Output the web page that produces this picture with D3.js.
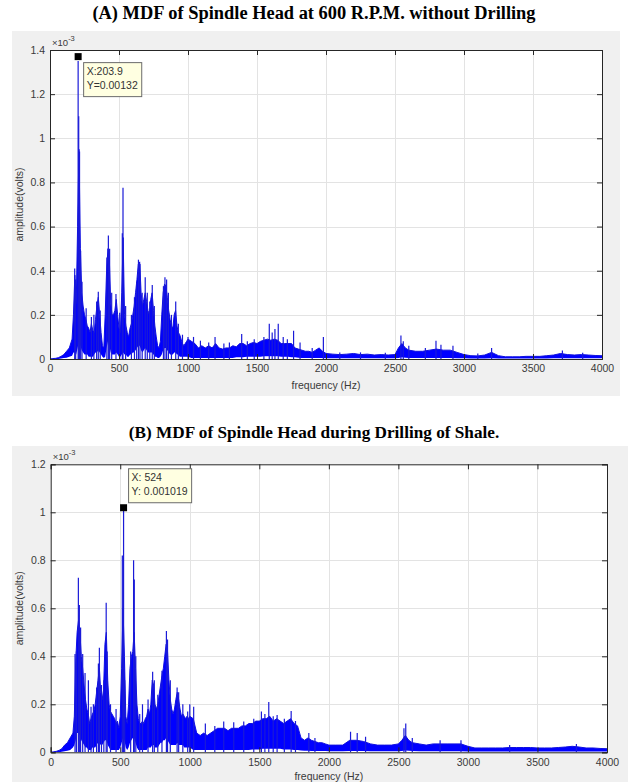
<!DOCTYPE html>
<html>
<head>
<meta charset="utf-8">
<script src="https://cdn.jsdelivr.net/npm/d3@7"></script>
<style>
    body { margin: 0; background: #fff; }
    svg { display: block; }
    .axis text { font-family: "Liberation Sans", Arial, sans-serif; font-size: 10.5px; fill: #3a3a3a; }
    .axis path, .axis line { stroke: #262626; }
    .lbl { font-family: "Liberation Sans", Arial, sans-serif; font-size: 10.5px; fill: #3a3a3a; }
    .title { font-family: "Liberation Serif", "Times New Roman", serif; font-weight: bold; fill: #000; }
</style>
</head>
<body>
<svg id="chart"></svg>
<script>
// tick labels
const xTicks = [0, 500, 1000, 1500, 2000, 2500, 3000, 3500, 4000];
const yTicksA = [0, 0.2, 0.4, 0.6, 0.8, 1, 1.2, 1.4];
const yTicksB = [0, 0.2, 0.4, 0.6, 0.8, 1, 1.2];

const titleA = "(A) MDF of Spindle Head at 600 R.P.M. without Drilling";
const titleB = "(B) MDF of Spindle Head during Drilling of Shale.";

// spectrum envelope: [frequency Hz, lower, upper]  (x 10^-3 volts)
const envA = [
    [0, 0, 0], [20, 0, 0.002], [40, 0, 0.003], [60, 0, 0.006], [80, 0.002, 0.012], [100, 0.004, 0.02],
    [120, 0.006, 0.035], [140, 0.01, 0.05], [160, 0.015, 0.09], [170, 0.03, 0.2], [180, 0.03, 0.38],
    [190, 0.02, 0.25], [200, 0.05, 0.6], [210, 0.08, 0.95], [220, 0.06, 0.5], [230, 0.04, 0.3],
    [240, 0.03, 0.24], [250, 0.02, 0.2], [260, 0.02, 0.18], [270, 0.02, 0.15], [280, 0.01, 0.14],
    [290, 0.01, 0.12], [300, 0.01, 0.16], [310, 0.01, 0.13], [320, 0.02, 0.12], [330, 0.03, 0.18],
    [340, 0.03, 0.24], [350, 0.04, 0.28], [360, 0.03, 0.2], [370, 0.02, 0.12], [380, 0.01, 0.06],
    [390, 0.005, 0.05], [400, 0.01, 0.2], [410, 0.05, 0.4], [420, 0.08, 0.5], [430, 0.06, 0.45],
    [440, 0.03, 0.25], [450, 0.02, 0.2], [460, 0.02, 0.2], [470, 0.02, 0.22], [480, 0.03, 0.27],
    [490, 0.02, 0.2], [500, 0.01, 0.14], [510, 0.01, 0.12], [520, 0.02, 0.3], [530, 0.03, 0.55],
    [540, 0.02, 0.2], [550, 0.02, 0.15], [560, 0.01, 0.12], [570, 0.01, 0.1], [580, 0.02, 0.14],
    [590, 0.02, 0.16], [600, 0.03, 0.2], [610, 0.03, 0.24], [620, 0.04, 0.3], [630, 0.05, 0.36],
    [640, 0.06, 0.43], [650, 0.06, 0.44], [660, 0.04, 0.3], [670, 0.03, 0.24], [680, 0.04, 0.27],
    [690, 0.05, 0.3], [700, 0.04, 0.26], [710, 0.03, 0.22], [720, 0.03, 0.2], [730, 0.03, 0.27],
    [740, 0.03, 0.3], [750, 0.02, 0.22], [760, 0.01, 0.15], [770, 0.01, 0.1], [780, 0.005, 0.06],
    [790, 0.005, 0.05], [800, 0.01, 0.08], [810, 0.02, 0.2], [820, 0.04, 0.3], [830, 0.05, 0.34],
    [840, 0.05, 0.33], [850, 0.04, 0.28], [860, 0.03, 0.22], [870, 0.02, 0.18], [880, 0.02, 0.15],
    [890, 0.02, 0.14], [900, 0.03, 0.2], [910, 0.03, 0.22], [920, 0.02, 0.15], [930, 0.02, 0.12],
    [940, 0.01, 0.11], [950, 0.01, 0.09], [960, 0.01, 0.07], [970, 0.01, 0.06], [980, 0.01, 0.07],
    [990, 0.01, 0.08], [1000, 0.01, 0.09], [1025, 0.005, 0.08], [1050, 0.005, 0.07], [1075, 0.005, 0.05],
    [1100, 0.005, 0.06], [1125, 0.005, 0.05], [1150, 0.005, 0.06], [1175, 0.005, 0.05], [1200, 0.005, 0.07],
    [1225, 0.005, 0.05], [1250, 0.005, 0.045], [1275, 0.005, 0.05], [1300, 0.005, 0.05], [1325, 0.005, 0.06],
    [1350, 0.008, 0.055], [1375, 0.008, 0.07], [1400, 0.008, 0.07], [1425, 0.01, 0.06], [1450, 0.01, 0.07],
    [1475, 0.01, 0.075], [1500, 0.01, 0.07], [1525, 0.01, 0.08], [1550, 0.012, 0.085], [1575, 0.012, 0.09],
    [1600, 0.012, 0.085], [1625, 0.012, 0.09], [1650, 0.012, 0.085], [1675, 0.01, 0.07], [1700, 0.01, 0.07],
    [1725, 0.01, 0.07], [1750, 0.008, 0.07], [1775, 0.008, 0.05], [1800, 0.006, 0.045], [1825, 0.005, 0.04],
    [1850, 0.005, 0.035], [1875, 0.005, 0.035], [1900, 0.005, 0.03], [1925, 0.005, 0.04], [1950, 0.005, 0.05],
    [1975, 0.004, 0.035], [2000, 0.003, 0.025], [2050, 0.003, 0.022], [2100, 0.003, 0.02], [2150, 0.003, 0.022],
    [2200, 0.003, 0.025], [2250, 0.003, 0.02], [2300, 0.003, 0.022], [2350, 0.003, 0.018], [2400, 0.003, 0.02],
    [2450, 0.003, 0.018], [2500, 0.003, 0.02], [2525, 0.005, 0.05], [2550, 0.008, 0.07], [2575, 0.006, 0.05],
    [2600, 0.005, 0.04], [2650, 0.004, 0.035], [2700, 0.004, 0.035], [2750, 0.004, 0.04], [2800, 0.004, 0.045],
    [2850, 0.004, 0.04], [2900, 0.004, 0.04], [2950, 0.003, 0.03], [3000, 0.003, 0.02], [3050, 0.002, 0.015],
    [3100, 0.002, 0.014], [3150, 0.002, 0.018], [3200, 0.003, 0.03], [3250, 0.002, 0.015], [3300, 0.002, 0.01],
    [3350, 0.002, 0.01], [3400, 0.002, 0.01], [3450, 0.002, 0.012], [3500, 0.002, 0.012], [3550, 0.002, 0.012],
    [3600, 0.002, 0.015], [3650, 0.003, 0.018], [3700, 0.003, 0.025], [3750, 0.003, 0.02], [3800, 0.003, 0.018],
    [3850, 0.003, 0.02], [3900, 0.003, 0.018], [3950, 0.003, 0.016], [4000, 0.003, 0.015]
];

// narrow peaks: [frequency Hz, amplitude]
const spikesA = [
    [179, 0.41], [186, 0.36], [203.9, 1.35], [208, 1.1], [214, 0.94], [222, 0.49], [232, 0.35], [262, 0.23],
    [300, 0.19], [318, 0.2], [338, 0.26], [350, 0.305], [364, 0.22], [412, 0.46], [423, 0.56], [432, 0.5],
    [447, 0.3], [478, 0.295], [505, 0.21], [524, 0.57], [529, 0.776], [548, 0.24], [590, 0.2], [612, 0.28],
    [628, 0.35], [641, 0.45], [652, 0.43], [668, 0.3], [690, 0.37], [705, 0.3], [723, 0.26], [741, 0.335],
    [756, 0.24], [822, 0.33], [833, 0.37], [845, 0.36], [858, 0.3], [880, 0.2], [911, 0.26], [930, 0.16],
    [960, 0.11], [1000, 0.1], [1040, 0.1], [1090, 0.083], [1150, 0.075], [1196, 0.1], [1260, 0.07],
    [1300, 0.075], [1389, 0.113], [1430, 0.08], [1480, 0.09], [1550, 0.1], [1589, 0.16], [1610, 0.12],
    [1630, 0.136], [1654, 0.16], [1690, 0.1], [1720, 0.09], [1765, 0.128], [1812, 0.075], [1900, 0.05],
    [1981, 0.1], [2100, 0.03], [2250, 0.03], [2430, 0.028], [2543, 0.106], [2560, 0.08], [2600, 0.06],
    [2720, 0.05], [2797, 0.083], [2833, 0.065], [2920, 0.06], [3100, 0.025], [3200, 0.05], [3713, 0.038],
    [3860, 0.028]
];

const envB = [
    [0, 0, 0], [20, 0, 0.002], [40, 0, 0.004], [60, 0, 0.008], [80, 0.002, 0.015], [100, 0.004, 0.03],
    [120, 0.006, 0.04], [140, 0.01, 0.06], [160, 0.02, 0.08], [170, 0.03, 0.15], [180, 0.05, 0.38],
    [190, 0.08, 0.5], [200, 0.08, 0.55], [210, 0.07, 0.5], [220, 0.05, 0.4], [230, 0.04, 0.35],
    [240, 0.03, 0.28], [250, 0.02, 0.22], [260, 0.02, 0.18], [270, 0.01, 0.16], [280, 0.01, 0.12],
    [290, 0.01, 0.14], [300, 0.02, 0.16], [310, 0.02, 0.17], [320, 0.02, 0.2], [330, 0.03, 0.25],
    [340, 0.04, 0.3], [350, 0.04, 0.35], [360, 0.03, 0.25], [370, 0.03, 0.22], [380, 0.04, 0.26],
    [390, 0.05, 0.45], [400, 0.05, 0.5], [410, 0.03, 0.3], [420, 0.02, 0.2], [430, 0.01, 0.17],
    [440, 0.01, 0.16], [450, 0.01, 0.15], [460, 0.01, 0.14], [470, 0.01, 0.12], [480, 0.01, 0.13],
    [490, 0.01, 0.1], [500, 0.02, 0.15], [510, 0.04, 0.35], [520, 0.06, 0.6], [530, 0.05, 0.4],
    [540, 0.02, 0.15], [550, 0.01, 0.12], [560, 0.02, 0.2], [570, 0.04, 0.35], [580, 0.05, 0.4],
    [590, 0.06, 0.42], [600, 0.06, 0.5], [610, 0.04, 0.35], [620, 0.02, 0.2], [630, 0.01, 0.14],
    [640, 0.01, 0.12], [650, 0.01, 0.12], [660, 0.01, 0.13], [670, 0.01, 0.12], [680, 0.01, 0.14],
    [690, 0.01, 0.15], [700, 0.02, 0.18], [710, 0.02, 0.16], [720, 0.02, 0.2], [730, 0.03, 0.3],
    [740, 0.03, 0.28], [750, 0.02, 0.2], [760, 0.02, 0.18], [770, 0.02, 0.2], [780, 0.03, 0.24],
    [790, 0.04, 0.28], [800, 0.04, 0.32], [810, 0.05, 0.35], [820, 0.05, 0.4], [830, 0.06, 0.45],
    [840, 0.05, 0.42], [850, 0.04, 0.3], [860, 0.03, 0.22], [870, 0.03, 0.18], [880, 0.03, 0.16],
    [890, 0.03, 0.18], [900, 0.03, 0.22], [910, 0.04, 0.25], [920, 0.03, 0.22], [930, 0.03, 0.18],
    [940, 0.03, 0.15], [950, 0.03, 0.16], [960, 0.02, 0.15], [970, 0.02, 0.14], [980, 0.02, 0.15],
    [990, 0.02, 0.14], [1000, 0.02, 0.15], [1025, 0.01, 0.14], [1050, 0.01, 0.08], [1075, 0.01, 0.07],
    [1100, 0.01, 0.08], [1125, 0.01, 0.07], [1150, 0.01, 0.08], [1175, 0.01, 0.09], [1200, 0.01, 0.1],
    [1225, 0.01, 0.1], [1250, 0.01, 0.1], [1275, 0.01, 0.09], [1300, 0.01, 0.1], [1325, 0.01, 0.1],
    [1350, 0.01, 0.1], [1375, 0.01, 0.11], [1400, 0.01, 0.11], [1425, 0.01, 0.12], [1450, 0.012, 0.12],
    [1475, 0.012, 0.13], [1500, 0.012, 0.13], [1525, 0.015, 0.14], [1550, 0.015, 0.14], [1575, 0.015, 0.15],
    [1600, 0.015, 0.13], [1625, 0.015, 0.14], [1650, 0.015, 0.13], [1675, 0.012, 0.12], [1700, 0.012, 0.13],
    [1725, 0.012, 0.14], [1750, 0.01, 0.12], [1775, 0.01, 0.11], [1800, 0.008, 0.06], [1825, 0.006, 0.05],
    [1850, 0.006, 0.06], [1875, 0.005, 0.05], [1900, 0.005, 0.045], [1925, 0.005, 0.04], [1950, 0.005, 0.04],
    [1975, 0.005, 0.035], [2000, 0.004, 0.03], [2050, 0.004, 0.03], [2100, 0.004, 0.03], [2150, 0.005, 0.05],
    [2200, 0.005, 0.05], [2250, 0.005, 0.045], [2300, 0.004, 0.035], [2350, 0.004, 0.03], [2400, 0.004, 0.03],
    [2450, 0.004, 0.03], [2500, 0.004, 0.035], [2525, 0.005, 0.05], [2550, 0.008, 0.07], [2575, 0.006, 0.05],
    [2600, 0.005, 0.04], [2650, 0.004, 0.035], [2700, 0.004, 0.03], [2750, 0.004, 0.035], [2800, 0.004, 0.035],
    [2850, 0.004, 0.035], [2900, 0.004, 0.035], [2950, 0.004, 0.035], [3000, 0.003, 0.025], [3050, 0.003, 0.018],
    [3100, 0.003, 0.018], [3150, 0.003, 0.018], [3200, 0.003, 0.018], [3250, 0.003, 0.018], [3300, 0.003, 0.02],
    [3350, 0.003, 0.02], [3400, 0.003, 0.02], [3450, 0.003, 0.02], [3500, 0.003, 0.018], [3550, 0.003, 0.018],
    [3600, 0.003, 0.018], [3650, 0.003, 0.02], [3700, 0.003, 0.022], [3750, 0.003, 0.025], [3800, 0.003, 0.022],
    [3850, 0.003, 0.018], [3900, 0.003, 0.018], [3950, 0.003, 0.016], [4000, 0.003, 0.015]
];

const spikesB = [
    [175, 0.41], [185, 0.42], [199, 0.727], [206, 0.614], [215, 0.52], [230, 0.41], [247, 0.33], [271, 0.3],
    [290, 0.19], [307, 0.2], [330, 0.27], [343, 0.37], [350, 0.436], [365, 0.28], [382, 0.3], [399, 0.623],
    [406, 0.42], [430, 0.2], [470, 0.18], [515, 0.82], [524, 1.019], [532, 0.3], [575, 0.42], [596, 0.8],
    [601, 0.72], [612, 0.4], [640, 0.16], [660, 0.2], [700, 0.22], [733, 0.336], [745, 0.3], [770, 0.24],
    [800, 0.34], [832, 0.505], [840, 0.47], [860, 0.3], [909, 0.27], [920, 0.25], [950, 0.2], [985, 0.17],
    [1000, 0.2], [1028, 0.19], [1112, 0.12], [1180, 0.11], [1244, 0.128], [1316, 0.125], [1388, 0.128],
    [1460, 0.14], [1515, 0.17], [1540, 0.16], [1568, 0.21], [1600, 0.15], [1628, 0.155], [1680, 0.14],
    [1729, 0.172], [1760, 0.13], [1856, 0.08], [1900, 0.06], [2156, 0.086], [2204, 0.08], [2264, 0.065],
    [2540, 0.1], [2553, 0.12], [2600, 0.06], [2800, 0.05], [2950, 0.05], [3300, 0.03], [3780, 0.035]
];

// data tips: marker position and text
const tipA = { f: 203.9, v: 1.37, lines: ["X:203.9", "Y=0.00132"] };
const tipB = { f: 524, v: 1.019, lines: ["X: 524", "Y: 0.001019"] };

class SpectrumPanel {

    constructor(config, env, spikes, tip) {
        this.config = config;
        this.env = env;
        this.spikes = spikes;
        this.tip = tip;

        this.init();
        this.render();
    }

    init() {
        let self = this;
        let c = self.config;

        self.g = d3.select(c.parent).append("g");

        // figure background
        self.g.append("rect")
            .attr("x", c.bg[0]).attr("y", c.bg[1])
            .attr("width", c.bg[2]).attr("height", c.bg[3])
            .attr("fill", "#f0f0f0");

        // title
        self.g.append("text")
            .attr("class", "title")
            .attr("x", 314).attr("y", c.titleY)
            .attr("text-anchor", "middle")
            .style("font-size", c.titleSize + "px")
            .text(c.title);

        self.xScale = d3.scaleLinear().domain([0, 4000]).range([c.left, c.right]);
        self.yScale = d3.scaleLinear().domain([0, c.ymax]).range([c.bottom, c.top]);
    }

    render() {
        let self = this;
        let c = self.config;
        let x = self.xScale, y = self.yScale;

        self.g.append("rect")
            .attr("x", c.left).attr("y", c.top)
            .attr("width", c.right - c.left).attr("height", c.bottom - c.top)
            .attr("fill", "#fff");

        // grid
        let grid = self.g.append("g").attr("stroke", "#e3e3e3").attr("stroke-width", 1);
        grid.selectAll(".gx").data(xTicks.slice(1, -1)).enter().append("line")
            .attr("x1", d => Math.round(x(d)) + 0.5).attr("x2", d => Math.round(x(d)) + 0.5)
            .attr("y1", c.top).attr("y2", c.bottom);
        grid.selectAll(".gy").data(c.yTicks.slice(1, -1)).enter().append("line")
            .attr("y1", d => Math.round(y(d)) + 0.5).attr("y2", d => Math.round(y(d)) + 0.5)
            .attr("x1", c.left).attr("x2", c.right);

        // clip
        self.g.append("clipPath").attr("id", c.id + "-clip")
            .append("rect")
            .attr("x", c.left).attr("y", c.top)
            .attr("width", c.right - c.left).attr("height", c.bottom - c.top);

        let plot = self.g.append("g").attr("clip-path", `url(#${c.id}-clip)`);

        let area = d3.area()
            .x(d => x(d[0]))
            .y0(d => y(d[1]))
            .y1(d => y(d[2]));
        plot.append("path")
            .datum(self.env)
            .attr("d", area)
            .attr("fill", "#0000ff");

        plot.append("path")
            .datum(self.env)
            .attr("d", d3.line().x(d => x(d[0])).y(d => y(d[2])))
            .attr("fill", "none")
            .attr("stroke", "#1010e0")
            .attr("stroke-width", 1);

        plot.selectAll(".spike").data(self.spikes).enter().append("line")
            .attr("x1", d => x(d[0])).attr("x2", d => x(d[0]))
            .attr("y1", y(0)).attr("y2", d => y(d[1]))
            .attr("stroke", "#1a1ad8")
            .attr("stroke-width", 1.2);

        // axes (MATLAB style: ticks inside, mirrored on top and right)
        let fmt = d3.format("~g");
        self.g.append("g").attr("class", "axis")
            .attr("transform", `translate(0, ${c.bottom})`)
            .call(d3.axisBottom(x).tickValues(xTicks).tickFormat(fmt).tickSize(-5).tickPadding(6));
        self.g.append("g").attr("class", "axis")
            .attr("transform", `translate(0, ${c.top})`)
            .call(d3.axisTop(x).tickValues(xTicks).tickFormat("").tickSize(-5));
        self.g.append("g").attr("class", "axis")
            .attr("transform", `translate(${c.left}, 0)`)
            .call(d3.axisLeft(y).tickValues(c.yTicks).tickFormat(fmt).tickSize(-5).tickPadding(5));
        self.g.append("g").attr("class", "axis")
            .attr("transform", `translate(${c.right}, 0)`)
            .call(d3.axisRight(y).tickValues(c.yTicks).tickFormat("").tickSize(-5));
        self.g.selectAll(".axis .domain").attr("stroke", "#262626");

        // exponent
        let ex = self.g.append("text").attr("class", "lbl")
            .attr("x", c.left + 2).attr("y", c.top - 4)
            .style("font-size", "9.5px");
        ex.append("tspan").text("\u00d710");
        ex.append("tspan").attr("dy", -5).style("font-size", "7.5px").text("-3");

        // axis labels
        self.g.append("text").attr("class", "lbl")
            .attr("x", (c.left + c.right) / 2).attr("y", c.xLabelY)
            .attr("text-anchor", "middle")
            .text("frequency (Hz)");
        self.g.append("text").attr("class", "lbl")
            .attr("transform", `translate(${c.yLabelX}, ${(c.top + c.bottom) / 2}) rotate(-90)`)
            .attr("text-anchor", "middle")
            .text("amplitude(volts)");

        // data tip
        let mx = x(self.tip.f), my = y(self.tip.v);
        self.g.append("rect")
            .attr("x", mx - 3.5).attr("y", my - 3.5)
            .attr("width", 7).attr("height", 7)
            .attr("fill", "#000");

        let tipG = self.g.append("g")
            .attr("transform", `translate(${mx + c.tipDx}, ${my + c.tipDy})`);
        let box = tipG.append("rect")
            .attr("fill", "#ffffe1")
            .attr("stroke", "#6b6b6b")
            .attr("stroke-width", 1);
        let tt = tipG.selectAll("text").data(self.tip.lines).enter().append("text")
            .attr("class", "lbl")
            .style("fill", "#333")
            .attr("x", 3)
            .attr("y", (d, i) => 12 + i * 14)
            .text(d => d);
        let w = d3.max(tt.nodes(), n => n.getComputedTextLength());
        box.attr("width", w + 7).attr("height", 34);
    }
}

const svg = d3.select("#chart").attr("width", 628).attr("height", 782);

new SpectrumPanel({
    parent: "#chart", id: "a", title: titleA, titleY: 18.5, titleSize: 18.4,
    bg: [12, 31, 608, 365],
    left: 50, right: 602, top: 50, bottom: 359,
    ymax: 1.4, yTicks: yTicksA,
    xLabelY: 389, yLabelX: 23,
    tipDx: 5.5, tipDy: 6
}, envA, spikesA, tipA);

new SpectrumPanel({
    parent: "#chart", id: "b", title: titleB, titleY: 438, titleSize: 17.2,
    bg: [12, 446, 616, 336],
    left: 50.7, right: 607, top: 464.3, bottom: 752.3,
    ymax: 1.2, yTicks: yTicksB,
    xLabelY: 780, yLabelX: 23,
    tipDx: 5, tipDy: -39
}, envB, spikesB, tipB);
</script>
</body>
</html>
